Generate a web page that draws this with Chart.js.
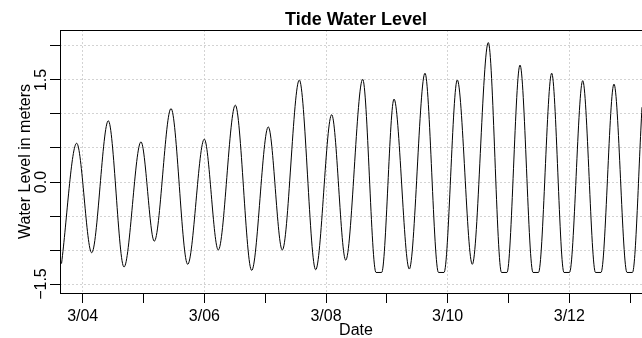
<!DOCTYPE html>
<html>
<head>
<meta charset="utf-8">
<script src="https://cdn.jsdelivr.net/npm/chart.js@4/dist/chart.umd.min.js"></script>
<style>
html,body{margin:0;padding:0;overflow:hidden;background:#ffffff;width:642px;height:338px}
#wrap{width:660px;height:338px}
canvas{display:block}
</style>
</head>
<body>
<div id="wrap"><canvas id="c" width="660" height="338" style="width:660px;height:338px"></canvas></div>
<script>
// Time of each high / low water, as day of March (e.g. 4.5 = 3/04 12:00)
const times = [3.652, 3.901, 4.148, 4.421, 4.679, 4.958, 5.177, 5.452, 5.726, 5.999,
  6.229, 6.509, 6.778, 7.051, 7.281, 7.561, 7.830, 8.093, 8.324, 8.603,
  8.822, 8.915, 9.118, 9.369, 9.627, 9.849, 9.940, 10.158, 10.405, 10.668,
  10.885, 10.975, 11.189, 11.403, 11.493, 11.710, 11.912, 12.003, 12.220, 12.430,
  12.521, 12.734, 12.948, 13.038, 13.195];
// Water level in meters at those times
const levels = [-1.20, 0.57, -1.04, 0.90, -1.25, 0.59, -0.87, 1.08, -1.21, 0.63,
  -1.00, 1.13, -1.30, 0.81, -1.00, 1.50, -1.29, 0.99, -1.15, 1.51,
  -1.33, -1.33, 1.22, -1.28, 1.60, -1.33, -1.33, 1.50, -1.21, 2.05,
  -1.33, -1.33, 1.72, -1.33, -1.33, 1.60, -1.33, -1.33, 1.49, -1.33,
  -1.33, 1.44, -1.33, -1.33, 1.10];
// Tick labels
const xLabelDays = [4, 6, 8, 10, 12];
const xLabels = ['3/04', '3/06', '3/08', '3/10', '3/12'];
const yLabelValues = [-1.5, 0, 1.5];
const yLabels = ['\u22121.5', '0.0', '1.5'];

const points = times.map((t, i) => ({x: t, y: levels[i]}));
const FONT = "'Liberation Sans', Arial, Helvetica, sans-serif";
Chart.defaults.font.family = FONT;
Chart.defaults.color = '#000000';

const boxPlugin = {
  id: 'box',
  afterDraw(chart) {
    const a = chart.chartArea, ctx = chart.ctx;
    ctx.save();
    ctx.strokeStyle = '#000000';
    ctx.lineWidth = 1;
    ctx.strokeRect(Math.round(a.left) + 0.5, Math.round(a.top) + 0.5,
      Math.round(a.right - a.left), Math.round(a.bottom - a.top));
    ctx.restore();
  }
};

function findLabel(vals, labs, v) {
  for (let i = 0; i < vals.length; i++) if (Math.abs(vals[i] - v) < 1e-6) return labs[i];
  return '';
}

new Chart(document.getElementById('c'), {
  type: 'line',
  data: {
    datasets: [{
      data: points,
      borderColor: '#000000',
      borderWidth: 1,
      pointRadius: 0,
      fill: false,
      cubicInterpolationMode: 'monotone'
    }]
  },
  options: {
    responsive: false,
    animation: false,
    devicePixelRatio: 1,
    layout: {padding: {left: 0, right: 8, top: 0, bottom: 0}},
    plugins: {
      legend: {display: false},
      tooltip: {enabled: false},
      title: {
        display: true,
        text: 'Tide Water Level',
        fullSize: false,
        color: '#000000',
        font: {size: 18, weight: 'bold', lineHeight: 1.0},
        padding: {top: 11.5, bottom: 0.5}
      }
    },
    scales: {
      x: {
        type: 'linear',
        position: 'bottom',
        min: 3.6268,
        max: 13.359,
        afterFit(s) { s.height = 45; },
        ticks: {
          stepSize: 1,
          includeBounds: false,
          autoSkip: false,
          maxRotation: 0,
          padding: 4,
          color: '#000000',
          font: {size: 16},
          callback: (v) => findLabel(xLabelDays, xLabels, v)
        },
        grid: {
          color: (ctx) => (ctx.tick && xLabelDays.includes(Math.round(ctx.tick.value)) ? '#d3d3d3' : 'rgba(0,0,0,0)'),
          tickColor: '#000000',
          tickLength: 10,
          tickWidth: 1,
          lineWidth: 1
        },
        border: {display: false, dash: [2, 2]},
        title: {
          display: true,
          text: 'Date',
          color: '#000000',
          font: {size: 16, lineHeight: 0.9},
          padding: {top: 0, bottom: 0}
        }
      },
      y: {
        type: 'linear',
        position: 'left',
        min: -1.632,
        max: 2.235,
        afterFit(s) { s.width = 60; },
        ticks: {
          stepSize: 0.5,
          includeBounds: false,
          autoSkip: false,
          minRotation: 90,
          maxRotation: 90,
          crossAlign: 'center',
          padding: -7.5,
          color: '#000000',
          font: {size: 16},
          callback: (v) => findLabel(yLabelValues, yLabels, v)
        },
        grid: {
          color: '#d3d3d3',
          tickColor: '#000000',
          tickLength: 10,
          tickWidth: 1,
          lineWidth: 1
        },
        border: {display: false, dash: [2, 2]},
        title: {
          display: true,
          text: 'Water Level in meters',
          color: '#000000',
          font: {size: 16, lineHeight: 1.2},
          padding: {top: 15.5, bottom: 0}
        }
      }
    }
  },
  plugins: [boxPlugin]
});
</script>
</body>
</html>
